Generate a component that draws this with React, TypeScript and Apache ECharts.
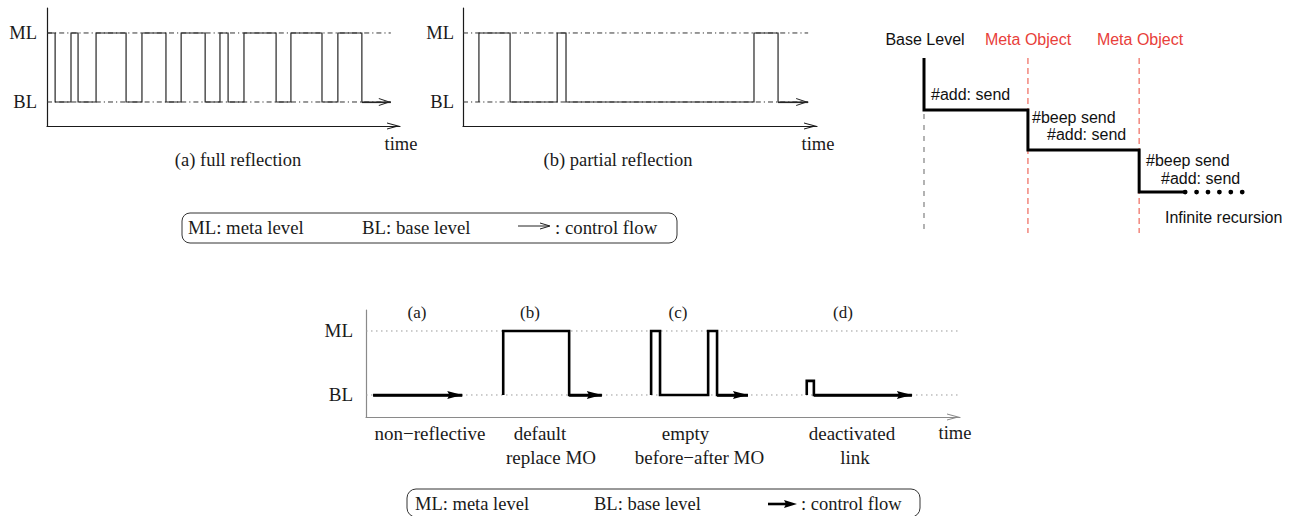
import React, { useEffect, useRef } from 'react';
import * as echarts from 'echarts';

// ---------------- data ----------------
// level values on the y axes
const levelValues = [0, 1];
const levelLabels = ['BL', 'ML'];

// (a) full reflection: starts on ML, switches level at each time, ends on BL (arrow)
const fullStartLevel = 1;
const fullStartTime = 0;
const fullSwitchTimes = [2.3, 6.8, 8.8, 13.9, 22.4, 26.9, 33.7, 38.0, 44.8, 49.0, 51.3, 55.8, 64.9, 69.1, 77.9, 82.4, 89.2];
const fullEndTime = 97.4;

// (b) partial reflection
const partialStartLevel = 0;
const partialStartTime = 4.5;
const partialSwitchTimes = [4.5, 13.3, 26.6, 29.1, 82.2, 89.0];
const partialEndTime = 97.5;

// bottom: four modes (start, pulses [from, to, height], arrow end)
const modeTags = ['(a)', '(b)', '(c)', '(d)'];
const flowStarts = [1.2, 23.1, 48.0, 74.2];
const flowEnds = [16.2, 39.7, 64.3, 91.9];
const nonReflectivePulses: number[][] = [];
const defaultReplacePulses = [[23.1, 34.2, 1]];
const emptyBeforeAfterPulses = [[48.0, 49.5, 1], [57.6, 59.1, 1]];
const deactivatedPulses = [[74.2, 75.4, 0.22]];

// right: lanes and call depth at which control moves to the next lane
const laneNames = ['Base Level', 'Meta Object', 'Meta Object'];
const laneX = [0, 31.4, 65.0];
const handoverDepth = [29.7, 52.6, 76.6];
const recursionLineEnd = 78.9;
const recursionDotsEnd = 99.4;
const laneDashStart = [32.0, 0, 0];

// ---------------- helpers ----------------
const SERIF = '"Liberation Serif", "Times New Roman", serif';
const SANS = '"Liberation Sans", Arial, sans-serif';

function openArrow(w: number, len: number, t: number) {
  const h = w / 2;
  const innerY = len + (t * len) / h;
  return `path://M${h},0 M${h},${len} L${w},${2 * len} L${w - t},${2 * len} L${h},${innerY} L${t},${2 * len} L0,${2 * len} Z`;
}
function filledArrow(w: number, len: number) {
  const h = w / 2;
  return `path://M${h},0 M${h},${len} L${w},${2 * len} L${h},${2 * len - len * 0.15} L0,${2 * len} Z`;
}

function levelPath(start: number, startLevel: number, switches: number[], end: number) {
  const pts: number[][] = [[start, startLevel]];
  let lvl = startLevel;
  for (const t of switches) {
    pts.push([t, lvl]);
    lvl = 1 - lvl;
    pts.push([t, lvl]);
  }
  pts.push([end, lvl]);
  return pts;
}

function pulsePath(start: number, pulses: number[][], end: number) {
  const pts: number[][] = [[start, 0]];
  for (const [a, b, h] of pulses) {
    pts.push([a, 0], [a, h], [b, h], [b, 0]);
  }
  pts.push([end, 0]);
  return pts;
}

function text(t: string, x: number, y: number, o: any = {}) {
  return {
    type: 'text',
    x,
    y,
    silent: true,
    style: {
      text: t,
      fill: o.color || '#1a1a1a',
      fontSize: o.size || 18.5,
      fontFamily: o.family || SERIF,
      align: o.align || 'center',
      textAlign: o.align || 'center',
      verticalAlign: 'middle',
      textVerticalAlign: 'middle',
    },
  };
}

function levelAxis(grid: number, min: number, max: number, color: string, size: number, margin: number) {
  return {
    gridIndex: grid,
    type: 'value',
    min,
    max,
    axisLine: { show: true, onZero: false, lineStyle: { color, width: 1.2 } },
    axisTick: { show: false },
    splitLine: { show: false },
    axisLabel: {
      show: true,
      customValues: levelValues,
      formatter: (v: number) => levelLabels[levelValues.indexOf(v)] ?? '',
      color: '#1a1a1a',
      fontFamily: SERIF,
      fontSize: size,
      margin,
    },
  };
}

function timeAxis(grid: number, color: string, arrowW: number, arrowLen: number) {
  return {
    gridIndex: grid,
    type: 'value',
    min: 0,
    max: 100,
    axisLine: {
      show: true,
      onZero: false,
      lineStyle: { color, width: 1.2 },
      symbol: ['none', openArrow(arrowW, arrowLen, 1.1)],
      symbolSize: [arrowW, arrowLen * 2],
    },
    axisTick: { show: false },
    axisLabel: { show: false },
    splitLine: { show: false },
  };
}

function refLine(grid: number, y: number, x0: number, x1: number, color: string, type: any) {
  return {
    type: 'line',
    xAxisIndex: grid,
    yAxisIndex: grid,
    data: [[x0, y], [x1, y]],
    showSymbol: false,
    symbol: 'none',
    silent: true,
    clip: false,
    lineStyle: { color, width: 1, type },
    z: 1,
  };
}

function signal(grid: number, pts: number[][], color: string, width: number, arrow: string, arrowSize: number[]) {
  const a = pts[pts.length - 2];
  const b = pts[pts.length - 1];
  return {
    type: 'line',
    xAxisIndex: grid,
    yAxisIndex: grid,
    data: pts,
    showSymbol: false,
    symbol: 'none',
    silent: true,
    clip: false,
    lineStyle: { color, width, join: 'miter', cap: 'butt' },
    z: 3,
    markLine: {
      silent: true,
      symbol: 'none',
      label: { show: false },
      lineStyle: { color, width, type: 'solid' },
      data: [[{ coord: a }, { coord: b, symbol: arrow, symbolSize: arrowSize }]],
    },
  };
}

function buildOption() {
  const topMin = -0.348;
  const topMax = 1.362;
  const botMin = -0.344;
  const botMax = 1.328;
  const topDash = [5, 3, 1.2, 3];
  const botDot = [1.5, 3.5];

  const series: any[] = [];
  // top (a) and (b)
  [
    { g: 0, end: fullEndTime, start: 0, pts: levelPath(fullStartTime, fullStartLevel, fullSwitchTimes, fullEndTime) },
    { g: 1, end: partialEndTime, start: 0, pts: levelPath(partialStartTime, partialStartLevel, partialSwitchTimes, partialEndTime) },
  ].forEach((p) => {
    series.push(refLine(p.g, 1, p.start, p.end, '#333', topDash));
    series.push(refLine(p.g, 0, p.start, p.end, '#333', topDash));
    series.push(signal(p.g, p.pts, '#262626', 1.2, openArrow(8, 12, 1.1), [8, 24]));
  });

  // bottom
  series.push(refLine(3, 1, 0, 99.7, '#9a9a9a', botDot));
  series.push(refLine(3, 0, 0, 99.7, '#9a9a9a', botDot));
  const pulseSets = [nonReflectivePulses, defaultReplacePulses, emptyBeforeAfterPulses, deactivatedPulses];
  pulseSets.forEach((ps, i) => {
    series.push(signal(3, pulsePath(flowStarts[i], ps, flowEnds[i]), '#000', 2.6, filledArrow(8, 15), [8, 30]));
  });

  // right: lanes
  laneX.forEach((x, i) => {
    series.push({
      type: 'line',
      xAxisIndex: 2,
      yAxisIndex: 2,
      data: [[x, laneDashStart[i]], [x, 100]],
      showSymbol: false,
      symbol: 'none',
      silent: true,
      clip: false,
      lineStyle: { color: i === 0 ? '#8a8a8a' : '#f07468', width: 1.3, type: i === 0 ? [5, 6] : [6, 4] },
      z: 1,
    });
  });
  const stair: number[][] = [[laneX[0], 0]];
  handoverDepth.forEach((d, i) => {
    stair.push([laneX[i], d]);
    stair.push([i + 1 < laneX.length ? laneX[i + 1] : recursionLineEnd, d]);
  });
  series.push({
    type: 'line',
    xAxisIndex: 2,
    yAxisIndex: 2,
    data: stair,
    showSymbol: false,
    symbol: 'none',
    silent: true,
    clip: false,
    lineStyle: { color: '#000', width: 3, join: 'miter' },
    z: 3,
  });
  const lastDepth = handoverDepth[handoverDepth.length - 1];
  series.push({
    type: 'line',
    xAxisIndex: 2,
    yAxisIndex: 2,
    data: [[recursionLineEnd, lastDepth], [recursionDotsEnd, lastDepth]],
    showSymbol: false,
    symbol: 'none',
    silent: true,
    clip: false,
    lineStyle: { color: '#000', width: 4.8, type: [0.01, 11.4], cap: 'round' },
    z: 3,
  });

  const graphic: any[] = [
    // top captions
    text('(a) full reflection', 238, 160),
    text('time', 401, 144),
    text('(b) partial reflection', 618, 160),
    text('time', 818, 144),
    // top legend
    { type: 'rect', silent: true, shape: { x: 182, y: 213, width: 495, height: 30, r: 8 }, style: { fill: 'none', stroke: '#333', lineWidth: 1 } },
    text('ML: meta level', 188, 227, { align: 'left', size: 18.8 }),
    text('BL: base level', 362, 227, { align: 'left', size: 18.8 }),
    { type: 'line', silent: true, shape: { x1: 518, y1: 226, x2: 549, y2: 226 }, style: { stroke: '#222', lineWidth: 1 } },
    { type: 'polyline', silent: true, shape: { points: [[540, 223], [550, 226], [540, 229]] }, style: { stroke: '#222', lineWidth: 1, fill: 'none' } },
    text(': control flow', 555, 227, { align: 'left', size: 18.8 }),
    // right panel
    text(laneNames[0], 925, 39, { family: SANS, size: 16, color: '#111' }),
    text(laneNames[1], 1028, 39, { family: SANS, size: 16, color: '#e8403a' }),
    text(laneNames[2], 1140, 39, { family: SANS, size: 16, color: '#e8403a' }),
    text('#add: send', 931, 94.5, { family: SANS, size: 16, color: '#111', align: 'left' }),
    text('#beep send', 1032, 117, { family: SANS, size: 16, color: '#111', align: 'left' }),
    text('#add: send', 1047, 134.5, { family: SANS, size: 16, color: '#111', align: 'left' }),
    text('#beep send', 1146, 160, { family: SANS, size: 16, color: '#111', align: 'left' }),
    text('#add: send', 1161, 178, { family: SANS, size: 16, color: '#111', align: 'left' }),
    text('Infinite recursion', 1165, 217, { family: SANS, size: 16, color: '#111', align: 'left' }),
    // bottom tags
    text(modeTags[0], 417, 312, { size: 17 }),
    text(modeTags[1], 530, 312, { size: 17 }),
    text(modeTags[2], 678, 312, { size: 17 }),
    text(modeTags[3], 843, 312, { size: 17 }),
    text('non\u2212reflective', 430, 433, { size: 19 }),
    text('default', 540, 433, { size: 19 }),
    text('replace MO', 551, 457, { size: 19 }),
    text('empty', 685.5, 433, { size: 19 }),
    text('before\u2212after MO', 699.5, 457, { size: 19 }),
    text('deactivated', 852, 433, { size: 19 }),
    text('link', 855, 457, { size: 19 }),
    text('time', 955, 433, { size: 18.5 }),
    // bottom legend
    { type: 'rect', silent: true, shape: { x: 407, y: 489, width: 513, height: 28, r: 9 }, style: { fill: 'none', stroke: '#333', lineWidth: 1 } },
    text('ML: meta level', 415, 504, { align: 'left', size: 18.5 }),
    text('BL: base level', 594, 504, { align: 'left', size: 18.5 }),
    { type: 'line', silent: true, shape: { x1: 768, y1: 504, x2: 786, y2: 504 }, style: { stroke: '#000', lineWidth: 2.6 } },
    { type: 'polygon', silent: true, shape: { points: [[784, 500], [797, 504], [784, 508], [786, 504]] }, style: { fill: '#000' } },
    text(': control flow', 801, 504, { align: 'left', size: 18.5 }),
  ];

  return {
    animation: false,
    backgroundColor: '#ffffff',
    grid: [
      { left: 47, top: 8, width: 353, height: 118 },
      { left: 463, top: 8, width: 354, height: 118 },
      { left: 924, top: 58, width: 331, height: 175 },
      { left: 366, top: 310, width: 594, height: 107 },
    ],
    xAxis: [
      timeAxis(0, '#1a1a1a', 7, 13),
      timeAxis(1, '#1a1a1a', 7, 13),
      { gridIndex: 2, type: 'value', min: 0, max: 100, show: false },
      timeAxis(3, '#8a8a8a', 7, 13),
    ],
    yAxis: [
      levelAxis(0, topMin, topMax, '#1a1a1a', 18.5, 10),
      levelAxis(1, topMin, topMax, '#1a1a1a', 18.5, 9),
      { gridIndex: 2, type: 'value', min: 0, max: 100, inverse: true, show: false },
      levelAxis(3, botMin, botMax, '#8a8a8a', 19, 13),
    ],
    series,
    graphic,
  };
}

export default function App() {
  const ref = useRef<HTMLDivElement>(null);
  useEffect(() => {
    document.body.style.margin = '0';
    if (!ref.current) return;
    const chart = echarts.init(ref.current, null, { renderer: 'svg' });
    chart.setOption(buildOption() as any);
    return () => chart.dispose();
  }, []);
  return <div ref={ref} style={{ width: 1294, height: 516, background: '#fff' }} />;
}
